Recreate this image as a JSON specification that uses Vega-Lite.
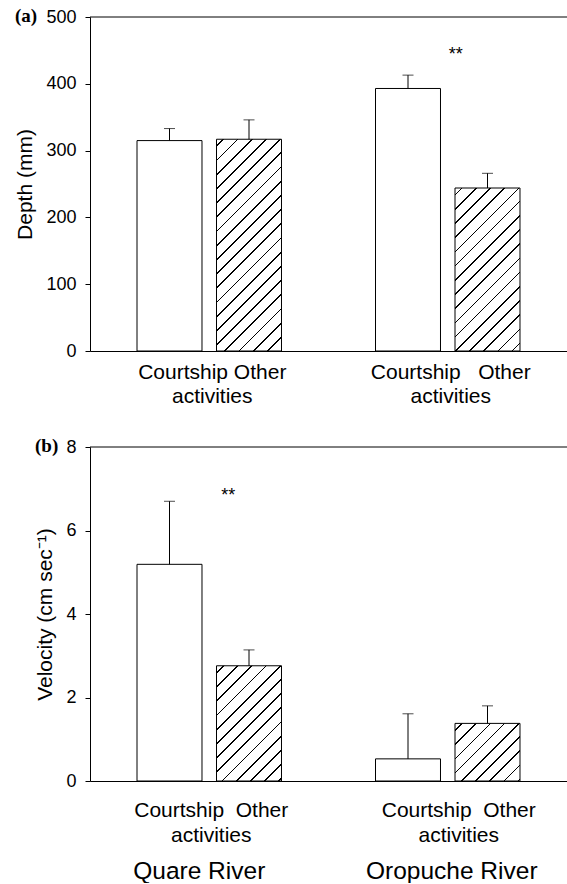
{
  "$schema": "https://vega.github.io/schema/vega-lite/v6.json",
  "background": "white",
  "padding": {"left": 14, "top": 7, "right": 0, "bottom": 0},
  "spacing": 31,
  "datasets": {
    "bars": [
      {"panel": "a", "river": "Quare River", "activity": "Courtship", "mean": 315, "upper": 333},
      {"panel": "a", "river": "Quare River", "activity": "Other activities", "mean": 317, "upper": 346},
      {"panel": "a", "river": "Oropuche River", "activity": "Courtship", "mean": 393, "upper": 413},
      {"panel": "a", "river": "Oropuche River", "activity": "Other activities", "mean": 244, "upper": 266},
      {"panel": "b", "river": "Quare River", "activity": "Courtship", "mean": 5.19, "upper": 6.70},
      {"panel": "b", "river": "Quare River", "activity": "Other activities", "mean": 2.76, "upper": 3.14},
      {"panel": "b", "river": "Oropuche River", "activity": "Courtship", "mean": 0.53, "upper": 1.61},
      {"panel": "b", "river": "Oropuche River", "activity": "Other activities", "mean": 1.38, "upper": 1.80}
    ],
    "sig": [
      {"panel": "a", "river": "Oropuche River", "label": "**"},
      {"panel": "b", "river": "Quare River", "label": "**"}
    ]
  },
  "config": {
    "view": {"stroke": null},
    "axis": {
      "labelFont": "Liberation Sans", "titleFont": "Liberation Sans",
      "labelColor": "black", "titleColor": "black", "domainColor": "black", "tickColor": "black",
      "labelFontSize": 18, "titleFontSize": 21, "titleFontWeight": "normal", "grid": false
    },
    "title": {"font": "Liberation Serif", "fontWeight": "bold", "fontSize": 19, "color": "black", "anchor": "start", "frame": "bounds"}
  },
  "vconcat": [
    {
      "width": 477, "height": 334,
      "title": {"text": "(a)", "offset": -27, "baseline": "middle"},
      "data": {"name": "bars"},
      "layer": [
        {
          "transform": [{"filter": "datum.panel == 'a'"}],
          "mark": {"type": "bar", "stroke": "black", "strokeWidth": 1},
          "encoding": {
            "x": {"field": "river", "type": "nominal", "scale": {"domain": ["Quare River", "Oropuche River"], "paddingInner": 0, "paddingOuter": 0},
                  "axis": {"title": null, "labelAngle": 0, "ticks": false, "tickSize": 0, "labelPadding": 10, "labelFontSize": 21, "labelLineHeight": 24, "labelOffset": 3,
                           "labelExpr": "datum.value == 'Quare River' ? ['Courtship\u00a0Other', '\u00a0\u00a0activities'] : ['Courtship\u00a0\u00a0\u00a0Other', '\u00a0\u00a0\u00a0\u00a0activities']"}},
            "xOffset": {"field": "activity", "type": "nominal", "scale": {"domain": ["Courtship", "Other activities"], "paddingInner": 0.1824, "paddingOuter": 0.5912}},
            "y": {"field": "mean", "type": "quantitative", "scale": {"domain": [0, 500], "nice": false},
                  "axis": {"values": [0, 100, 200, 300, 400, 500], "title": "Depth (mm)", "tickSize": 5, "labelPadding": 9, "titlePadding": 10}},
            "fill": {
              "condition": [
                {"test": "datum.river == 'Quare River' && datum.activity == 'Other activities'",
                 "value": {"gradient": "linear", "x1": 0, "y1": 0, "x2": 0.37609, "y2": 1.22546, "stops": [
{"offset":0.022,"color":"#fff"},{"offset":0.022,"color":"#000"},{"offset":0.028,"color":"#000"},{"offset":0.028,"color":"#fff"},
{"offset":0.072,"color":"#fff"},{"offset":0.072,"color":"#000"},{"offset":0.078,"color":"#000"},{"offset":0.078,"color":"#fff"},
{"offset":0.122,"color":"#fff"},{"offset":0.122,"color":"#000"},{"offset":0.128,"color":"#000"},{"offset":0.128,"color":"#fff"},
{"offset":0.172,"color":"#fff"},{"offset":0.172,"color":"#000"},{"offset":0.178,"color":"#000"},{"offset":0.178,"color":"#fff"},
{"offset":0.222,"color":"#fff"},{"offset":0.222,"color":"#000"},{"offset":0.228,"color":"#000"},{"offset":0.228,"color":"#fff"},
{"offset":0.272,"color":"#fff"},{"offset":0.272,"color":"#000"},{"offset":0.278,"color":"#000"},{"offset":0.278,"color":"#fff"},
{"offset":0.322,"color":"#fff"},{"offset":0.322,"color":"#000"},{"offset":0.328,"color":"#000"},{"offset":0.328,"color":"#fff"},
{"offset":0.372,"color":"#fff"},{"offset":0.372,"color":"#000"},{"offset":0.378,"color":"#000"},{"offset":0.378,"color":"#fff"},
{"offset":0.422,"color":"#fff"},{"offset":0.422,"color":"#000"},{"offset":0.428,"color":"#000"},{"offset":0.428,"color":"#fff"},
{"offset":0.472,"color":"#fff"},{"offset":0.472,"color":"#000"},{"offset":0.478,"color":"#000"},{"offset":0.478,"color":"#fff"},
{"offset":0.522,"color":"#fff"},{"offset":0.522,"color":"#000"},{"offset":0.528,"color":"#000"},{"offset":0.528,"color":"#fff"},
{"offset":0.572,"color":"#fff"},{"offset":0.572,"color":"#000"},{"offset":0.578,"color":"#000"},{"offset":0.578,"color":"#fff"},
{"offset":0.622,"color":"#fff"},{"offset":0.622,"color":"#000"},{"offset":0.628,"color":"#000"},{"offset":0.628,"color":"#fff"},
{"offset":0.672,"color":"#fff"},{"offset":0.672,"color":"#000"},{"offset":0.678,"color":"#000"},{"offset":0.678,"color":"#fff"},
{"offset":0.722,"color":"#fff"},{"offset":0.722,"color":"#000"},{"offset":0.728,"color":"#000"},{"offset":0.728,"color":"#fff"},
{"offset":0.772,"color":"#fff"},{"offset":0.772,"color":"#000"},{"offset":0.778,"color":"#000"},{"offset":0.778,"color":"#fff"},
{"offset":0.822,"color":"#fff"},{"offset":0.822,"color":"#000"},{"offset":0.828,"color":"#000"},{"offset":0.828,"color":"#fff"},
{"offset":0.872,"color":"#fff"},{"offset":0.872,"color":"#000"},{"offset":0.878,"color":"#000"},{"offset":0.878,"color":"#fff"},
{"offset":0.922,"color":"#fff"},{"offset":0.922,"color":"#000"},{"offset":0.928,"color":"#000"},{"offset":0.928,"color":"#fff"},
{"offset":0.972,"color":"#fff"},{"offset":0.972,"color":"#000"},{"offset":0.978,"color":"#000"},{"offset":0.978,"color":"#fff"}
                 ]}},
                {"test": "datum.river == 'Oropuche River' && datum.activity == 'Other activities'",
                 "value": {"gradient": "linear", "x1": 0, "y1": 0, "x2": 0.59947, "y2": 1.50328, "stops": [
{"offset":0.022,"color":"#fff"},{"offset":0.022,"color":"#000"},{"offset":0.028,"color":"#000"},{"offset":0.028,"color":"#fff"},
{"offset":0.072,"color":"#fff"},{"offset":0.072,"color":"#000"},{"offset":0.078,"color":"#000"},{"offset":0.078,"color":"#fff"},
{"offset":0.122,"color":"#fff"},{"offset":0.122,"color":"#000"},{"offset":0.128,"color":"#000"},{"offset":0.128,"color":"#fff"},
{"offset":0.172,"color":"#fff"},{"offset":0.172,"color":"#000"},{"offset":0.178,"color":"#000"},{"offset":0.178,"color":"#fff"},
{"offset":0.222,"color":"#fff"},{"offset":0.222,"color":"#000"},{"offset":0.228,"color":"#000"},{"offset":0.228,"color":"#fff"},
{"offset":0.272,"color":"#fff"},{"offset":0.272,"color":"#000"},{"offset":0.278,"color":"#000"},{"offset":0.278,"color":"#fff"},
{"offset":0.322,"color":"#fff"},{"offset":0.322,"color":"#000"},{"offset":0.328,"color":"#000"},{"offset":0.328,"color":"#fff"},
{"offset":0.372,"color":"#fff"},{"offset":0.372,"color":"#000"},{"offset":0.378,"color":"#000"},{"offset":0.378,"color":"#fff"},
{"offset":0.422,"color":"#fff"},{"offset":0.422,"color":"#000"},{"offset":0.428,"color":"#000"},{"offset":0.428,"color":"#fff"},
{"offset":0.472,"color":"#fff"},{"offset":0.472,"color":"#000"},{"offset":0.478,"color":"#000"},{"offset":0.478,"color":"#fff"},
{"offset":0.522,"color":"#fff"},{"offset":0.522,"color":"#000"},{"offset":0.528,"color":"#000"},{"offset":0.528,"color":"#fff"},
{"offset":0.572,"color":"#fff"},{"offset":0.572,"color":"#000"},{"offset":0.578,"color":"#000"},{"offset":0.578,"color":"#fff"},
{"offset":0.622,"color":"#fff"},{"offset":0.622,"color":"#000"},{"offset":0.628,"color":"#000"},{"offset":0.628,"color":"#fff"},
{"offset":0.672,"color":"#fff"},{"offset":0.672,"color":"#000"},{"offset":0.678,"color":"#000"},{"offset":0.678,"color":"#fff"},
{"offset":0.722,"color":"#fff"},{"offset":0.722,"color":"#000"},{"offset":0.728,"color":"#000"},{"offset":0.728,"color":"#fff"},
{"offset":0.772,"color":"#fff"},{"offset":0.772,"color":"#000"},{"offset":0.778,"color":"#000"},{"offset":0.778,"color":"#fff"},
{"offset":0.822,"color":"#fff"},{"offset":0.822,"color":"#000"},{"offset":0.828,"color":"#000"},{"offset":0.828,"color":"#fff"}
                 ]}}
              ],
              "value": "white"
            }
          }
        },
        {
          "transform": [{"filter": "datum.panel == 'a'"}],
          "mark": {"type": "rule", "color": "black", "strokeWidth": 1},
          "encoding": {
            "x": {"field": "river", "type": "nominal"},
            "xOffset": {"field": "activity", "type": "nominal"},
            "y": {"field": "mean", "type": "quantitative"},
            "y2": {"field": "upper"}
          }
        },
        {
          "transform": [{"filter": "datum.panel == 'a'"}],
          "mark": {"type": "tick", "color": "black", "thickness": 1, "size": 11},
          "encoding": {
            "x": {"field": "river", "type": "nominal"},
            "xOffset": {"field": "activity", "type": "nominal"},
            "y": {"field": "upper", "type": "quantitative"}
          }
        },
        {
          "data": {"name": "sig"},
          "transform": [{"filter": "datum.panel == 'a'"}],
          "mark": {"type": "text", "font": "Liberation Sans", "fontSize": 18, "color": "black", "baseline": "alphabetic", "dx": 8},
          "encoding": {
            "x": {"field": "river", "type": "nominal"},
            "y": {"datum": 435},
            "text": {"field": "label"}
          }
        },
        {
          "data": {"values": [{}]},
          "mark": {"type": "rule", "color": "black", "strokeWidth": 1},
          "encoding": {"y": {"datum": 500}}
        }
      ]
    },
    {
      "width": 477, "height": 334,
      "title": {"text": "(b)", "offset": -27, "baseline": "middle"},
      "data": {"name": "bars"},
      "resolve": {"axis": {"x": "independent"}},
      "layer": [
        {
          "transform": [{"filter": "datum.panel == 'b'"}],
          "mark": {"type": "bar", "stroke": "black", "strokeWidth": 1},
          "encoding": {
            "x": {"field": "river", "type": "nominal", "scale": {"domain": ["Quare River", "Oropuche River"], "paddingInner": 0, "paddingOuter": 0},
                  "axis": {"orient": "bottom", "title": null, "labelAngle": 0, "ticks": false, "tickSize": 0, "labelPadding": 18, "labelFontSize": 21, "labelLineHeight": 25,
                           "labelOffset": {"condition": {"test": "datum.value == 'Oropuche River'", "value": 11}, "value": 2},
                           "labelExpr": "['Courtship\u00a0\u00a0Other', 'activities']"}},
            "xOffset": {"field": "activity", "type": "nominal", "scale": {"domain": ["Courtship", "Other activities"], "paddingInner": 0.1824, "paddingOuter": 0.5912}},
            "y": {"field": "mean", "type": "quantitative", "scale": {"domain": [0, 8], "nice": false},
                  "axis": {"values": [0, 2, 4, 6, 8], "title": "Velocity (cm sec⁻¹)", "tickSize": 5, "labelPadding": 9, "titlePadding": 10}},
            "fill": {
              "condition": [
                {"test": "datum.river == 'Quare River' && datum.activity == 'Other activities'",
                 "value": {"gradient": "linear", "x1": 0, "y1": 0, "x2": 1.05510, "y2": 1.86996, "stops": [
{"offset":0.022,"color":"#fff"},{"offset":0.022,"color":"#000"},{"offset":0.028,"color":"#000"},{"offset":0.028,"color":"#fff"},
{"offset":0.072,"color":"#fff"},{"offset":0.072,"color":"#000"},{"offset":0.078,"color":"#000"},{"offset":0.078,"color":"#fff"},
{"offset":0.122,"color":"#fff"},{"offset":0.122,"color":"#000"},{"offset":0.128,"color":"#000"},{"offset":0.128,"color":"#fff"},
{"offset":0.172,"color":"#fff"},{"offset":0.172,"color":"#000"},{"offset":0.178,"color":"#000"},{"offset":0.178,"color":"#fff"},
{"offset":0.222,"color":"#fff"},{"offset":0.222,"color":"#000"},{"offset":0.228,"color":"#000"},{"offset":0.228,"color":"#fff"},
{"offset":0.272,"color":"#fff"},{"offset":0.272,"color":"#000"},{"offset":0.278,"color":"#000"},{"offset":0.278,"color":"#fff"},
{"offset":0.322,"color":"#fff"},{"offset":0.322,"color":"#000"},{"offset":0.328,"color":"#000"},{"offset":0.328,"color":"#fff"},
{"offset":0.372,"color":"#fff"},{"offset":0.372,"color":"#000"},{"offset":0.378,"color":"#000"},{"offset":0.378,"color":"#fff"},
{"offset":0.422,"color":"#fff"},{"offset":0.422,"color":"#000"},{"offset":0.428,"color":"#000"},{"offset":0.428,"color":"#fff"},
{"offset":0.472,"color":"#fff"},{"offset":0.472,"color":"#000"},{"offset":0.478,"color":"#000"},{"offset":0.478,"color":"#fff"},
{"offset":0.522,"color":"#fff"},{"offset":0.522,"color":"#000"},{"offset":0.528,"color":"#000"},{"offset":0.528,"color":"#fff"},
{"offset":0.572,"color":"#fff"},{"offset":0.572,"color":"#000"},{"offset":0.578,"color":"#000"},{"offset":0.578,"color":"#fff"},
{"offset":0.622,"color":"#fff"},{"offset":0.622,"color":"#000"},{"offset":0.628,"color":"#000"},{"offset":0.628,"color":"#fff"}
                 ]}},
                {"test": "datum.river == 'Oropuche River' && datum.activity == 'Other activities'",
                 "value": {"gradient": "linear", "x1": 0, "y1": 0, "x2": 2.44737, "y2": 2.16874, "stops": [
{"offset":0.022,"color":"#fff"},{"offset":0.022,"color":"#000"},{"offset":0.028,"color":"#000"},{"offset":0.028,"color":"#fff"},
{"offset":0.072,"color":"#fff"},{"offset":0.072,"color":"#000"},{"offset":0.078,"color":"#000"},{"offset":0.078,"color":"#fff"},
{"offset":0.122,"color":"#fff"},{"offset":0.122,"color":"#000"},{"offset":0.128,"color":"#000"},{"offset":0.128,"color":"#fff"},
{"offset":0.172,"color":"#fff"},{"offset":0.172,"color":"#000"},{"offset":0.178,"color":"#000"},{"offset":0.178,"color":"#fff"},
{"offset":0.222,"color":"#fff"},{"offset":0.222,"color":"#000"},{"offset":0.228,"color":"#000"},{"offset":0.228,"color":"#fff"},
{"offset":0.272,"color":"#fff"},{"offset":0.272,"color":"#000"},{"offset":0.278,"color":"#000"},{"offset":0.278,"color":"#fff"},
{"offset":0.322,"color":"#fff"},{"offset":0.322,"color":"#000"},{"offset":0.328,"color":"#000"},{"offset":0.328,"color":"#fff"},
{"offset":0.372,"color":"#fff"},{"offset":0.372,"color":"#000"},{"offset":0.378,"color":"#000"},{"offset":0.378,"color":"#fff"},
{"offset":0.422,"color":"#fff"},{"offset":0.422,"color":"#000"},{"offset":0.428,"color":"#000"},{"offset":0.428,"color":"#fff"}
                 ]}}
              ],
              "value": "white"
            }
          }
        },
        {
          "transform": [{"filter": "datum.panel == 'b'"}],
          "mark": {"type": "rule", "color": "black", "strokeWidth": 1},
          "encoding": {
            "x": {"field": "river", "type": "nominal",
                  "axis": {"orient": "bottom", "title": null, "labelAngle": 0, "domain": false, "ticks": false, "tickSize": 0, "labelPadding": 78, "labelFontSize": 24.5,
                           "labelOffset": {"condition": {"test": "datum.value == 'Oropuche River'", "value": 4}, "value": -10}}},
            "xOffset": {"field": "activity", "type": "nominal"},
            "y": {"field": "mean", "type": "quantitative"},
            "y2": {"field": "upper"}
          }
        },
        {
          "transform": [{"filter": "datum.panel == 'b'"}],
          "mark": {"type": "tick", "color": "black", "thickness": 1, "size": 11},
          "encoding": {
            "x": {"field": "river", "type": "nominal", "axis": null},
            "xOffset": {"field": "activity", "type": "nominal"},
            "y": {"field": "upper", "type": "quantitative"}
          }
        },
        {
          "data": {"name": "sig"},
          "transform": [{"filter": "datum.panel == 'b'"}],
          "mark": {"type": "text", "font": "Liberation Sans", "fontSize": 18, "color": "black", "baseline": "alphabetic", "dx": 19},
          "encoding": {
            "x": {"field": "river", "type": "nominal", "axis": null},
            "y": {"datum": 6.71},
            "text": {"field": "label"}
          }
        },
        {
          "data": {"values": [{}]},
          "mark": {"type": "rule", "color": "black", "strokeWidth": 1},
          "encoding": {"y": {"datum": 8}}
        }
      ]
    }
  ]
}
